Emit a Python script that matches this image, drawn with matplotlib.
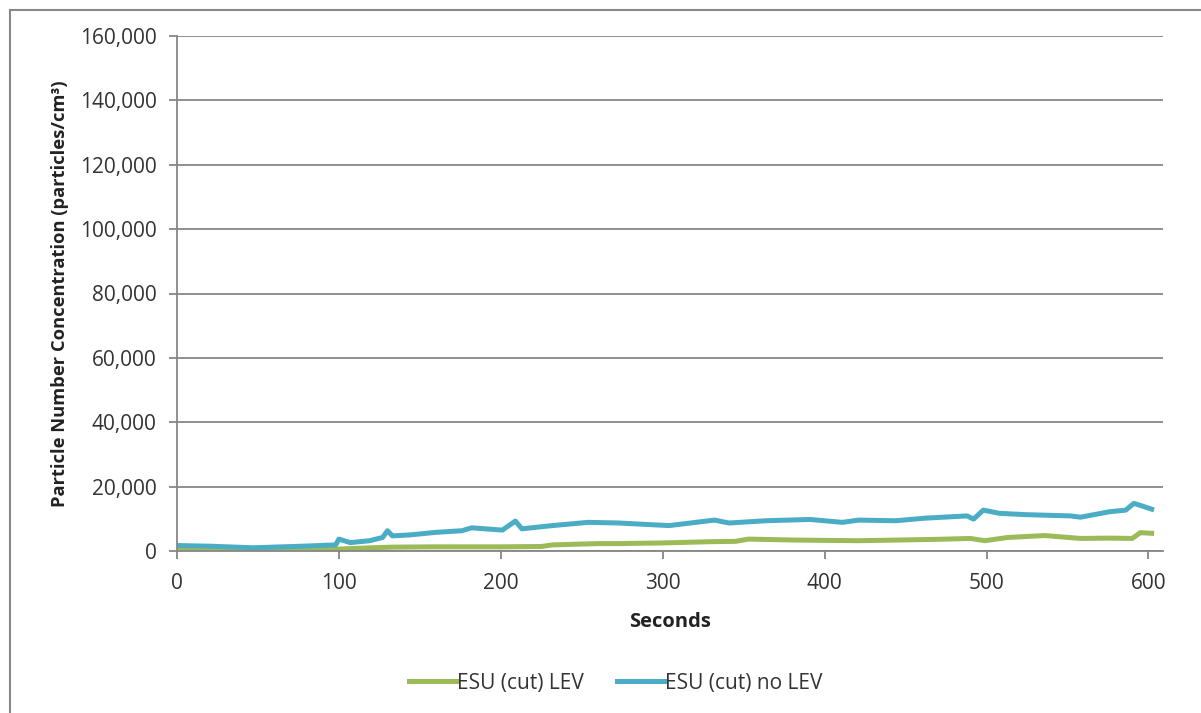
import matplotlib.pyplot as plt
from matplotlib.ticker import FuncFormatter
from matplotlib.lines import Line2D

# values (seconds, particles/cm3)
lev_t = [0, 30, 60, 100, 120, 133, 160, 200, 225, 232, 260, 273, 300, 330, 345,
         353, 382, 400, 421, 445, 467, 490, 499, 513, 536, 558, 575, 590, 595, 602]
lev_v = [500, 450, 500, 600, 1000, 1200, 1300, 1300, 1400, 1900, 2300, 2300, 2500,
         2900, 3000, 3700, 3400, 3300, 3200, 3400, 3600, 3900, 3200, 4200, 4800,
         3900, 4000, 3900, 5700, 5500]

nolev_t = [0, 20, 47, 78, 98, 100, 107, 119, 127, 130, 133, 144, 160, 176, 182, 201,
           209, 213, 232, 254, 273, 288, 304, 332, 341, 364, 391, 411, 421, 444,
           462, 488, 492, 498, 508, 524, 552, 558, 576, 586, 591, 596, 602]
nolev_v = [1700, 1500, 1000, 1500, 1900, 3700, 2600, 3200, 4200, 6300, 4700, 5000,
           5800, 6300, 7200, 6500, 9300, 6900, 7900, 8900, 8700, 8300, 7900, 9600,
           8700, 9400, 9800, 8900, 9600, 9400, 10200, 10900, 9900, 12700, 11700,
           11300, 10900, 10500, 12200, 12700, 14800, 14000, 13000]

series_names = ['ESU (cut) LEV', 'ESU (cut) no LEV']
colors = ['#9bbb59', '#4bacc6']

plt.rcParams['font.family'] = ['Open Sans', 'DejaVu Sans']

fig = plt.figure(figsize=(12.01, 7.13), dpi=100)
ax = fig.add_axes([177 / 1201, 1 - 551 / 713, (1163 - 177) / 1201, (551 - 36) / 713])

ax.plot(lev_t, lev_v, color=colors[0], lw=3.6, label=series_names[0], solid_joinstyle='round')
ax.plot(nolev_t, nolev_v, color=colors[1], lw=3.6, label=series_names[1], solid_joinstyle='round')

ax.set_xlim(0, 609)
ax.set_ylim(0, 160000)
ax.set_xticks(range(0, 601, 100))
ax.set_yticks(range(0, 160001, 20000))
ax.yaxis.set_major_formatter(FuncFormatter(lambda v, p: f'{int(v):,}'))
ax.grid(axis='y', color='#868686', lw=1.3)
ax.set_axisbelow(True)
for s in ['top', 'right']:
    ax.spines[s].set_visible(False)
for s in ['left', 'bottom']:
    ax.spines[s].set_color('#868686')
    ax.spines[s].set_linewidth(1.3)
ax.tick_params(axis='both', colors='#868686', length=5.5, width=1.3,
               labelcolor='#333333', labelsize=15)
ax.tick_params(axis='x', pad=10)
ax.tick_params(axis='y', pad=9)

ax.set_xlabel('Seconds', fontsize=14.5, fontweight='bold', color='#222222', labelpad=13)
ax.set_ylabel('Particle Number Concentration (particles/cm³)', fontsize=13.2,
              fontweight='bold', color='#222222', labelpad=8)

fig.legend(loc='center', bbox_to_anchor=(0.513, 1 - 683 / 713), ncol=2, frameon=False,
           fontsize=15, handlelength=2.3, columnspacing=1.6, handletextpad=0.0,
           labelcolor='#333333')

# outer chart border (left and top edges visible)
fig.add_artist(Line2D([10 / 1201, 10 / 1201], [0, 1 - 10 / 713], color='#888888', lw=1.5))
fig.add_artist(Line2D([10 / 1201, 1], [1 - 10 / 713, 1 - 10 / 713], color='#888888', lw=1.5))

fig.savefig('out.png', dpi=100)
